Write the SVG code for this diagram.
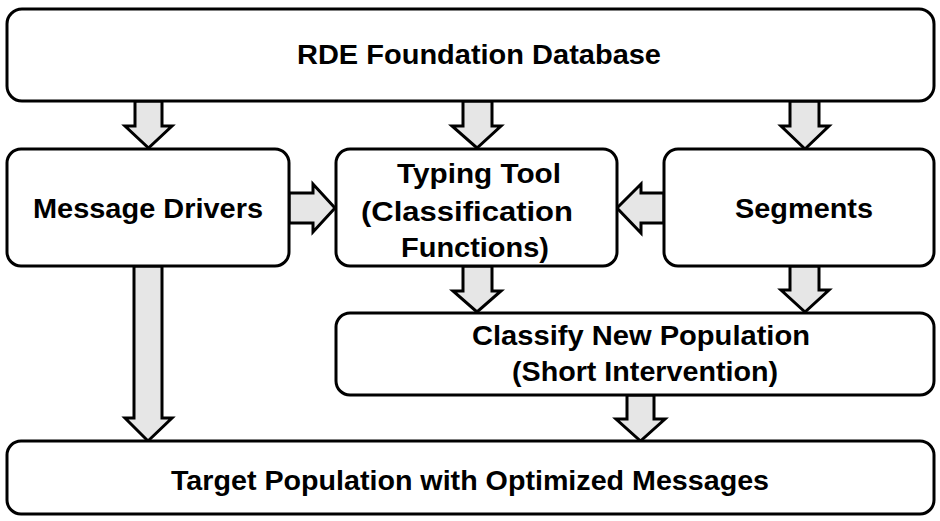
<svg xmlns="http://www.w3.org/2000/svg" width="940" height="521" viewBox="0 0 940 521">
<style>
.box{fill:#ffffff;stroke:#000000;stroke-width:3}
.arr{fill:#e6e6e6;stroke:#000000;stroke-width:3;stroke-linejoin:miter}
.t{font-family:"Liberation Sans",Arial,Helvetica,sans-serif;font-weight:bold;font-size:27.5px;fill:#000000;text-anchor:middle}
</style>
<rect width="940" height="521" fill="#ffffff"/>
<g id="connectors">
<polygon class="arr" points="135,101 162,101 162,126 172,126 148.5,148 125,126 135,126"/>
<polygon class="arr" points="463,101 492,101 492,126 501,126 477,148 452,126 463,126"/>
<polygon class="arr" points="790,101 819,101 819,126 829,126 805,149 781,126 790,126"/>
<polygon class="arr" points="463,266 492,266 492,291 501,291 477,312 453,291 463,291"/>
<polygon class="arr" points="790,266 819,266 819,290 829,290 805,312 781,290 790,290"/>
<polygon class="arr" points="134,266 162,266 162,418 172,418 148,441 125,418 134,418"/>
<polygon class="arr" points="627,395 654,395 654,419 665,419 640.5,441 616,419 627,419"/>
<polygon class="arr" points="289,193 313,193 313,184 335,208 313,232 313,223 289,223"/>
<polygon class="arr" points="664,193 641,193 641,184 617,208 641,233 641,223 664,223"/>
</g>
<g id="rde">
<rect class="box" x="7" y="9" width="927" height="92" rx="15"/>
<text class="t" x="479" y="64" textLength="364" lengthAdjust="spacingAndGlyphs">RDE Foundation Database</text>
</g>
<g id="message-drivers">
<rect class="box" x="7" y="149" width="282" height="117" rx="14"/>
<text class="t" x="148" y="218" textLength="230" lengthAdjust="spacingAndGlyphs">Message Drivers</text>
</g>
<g id="typing-tool">
<rect class="box" x="336" y="149" width="281" height="117" rx="14"/>
<text class="t" x="479" y="183" textLength="164" lengthAdjust="spacingAndGlyphs">Typing Tool</text>
<text class="t" x="467" y="221" textLength="212" lengthAdjust="spacingAndGlyphs">(Classification</text>
<text class="t" x="475" y="257" textLength="148" lengthAdjust="spacingAndGlyphs">Functions)</text>
</g>
<g id="segments">
<rect class="box" x="664" y="149" width="270" height="117" rx="14"/>
<text class="t" x="804" y="218" textLength="138" lengthAdjust="spacingAndGlyphs">Segments</text>
</g>
<g id="classify">
<rect class="box" x="336" y="313" width="598" height="82" rx="14"/>
<text class="t" x="641" y="345" textLength="338" lengthAdjust="spacingAndGlyphs">Classify New Population</text>
<text class="t" x="645" y="381" textLength="266" lengthAdjust="spacingAndGlyphs">(Short Intervention)</text>
</g>
<g id="target">
<rect class="box" x="7" y="441" width="927" height="73" rx="14"/>
<text class="t" x="470" y="490" textLength="598" lengthAdjust="spacingAndGlyphs">Target Population with Optimized Messages</text>
</g>
</svg>
